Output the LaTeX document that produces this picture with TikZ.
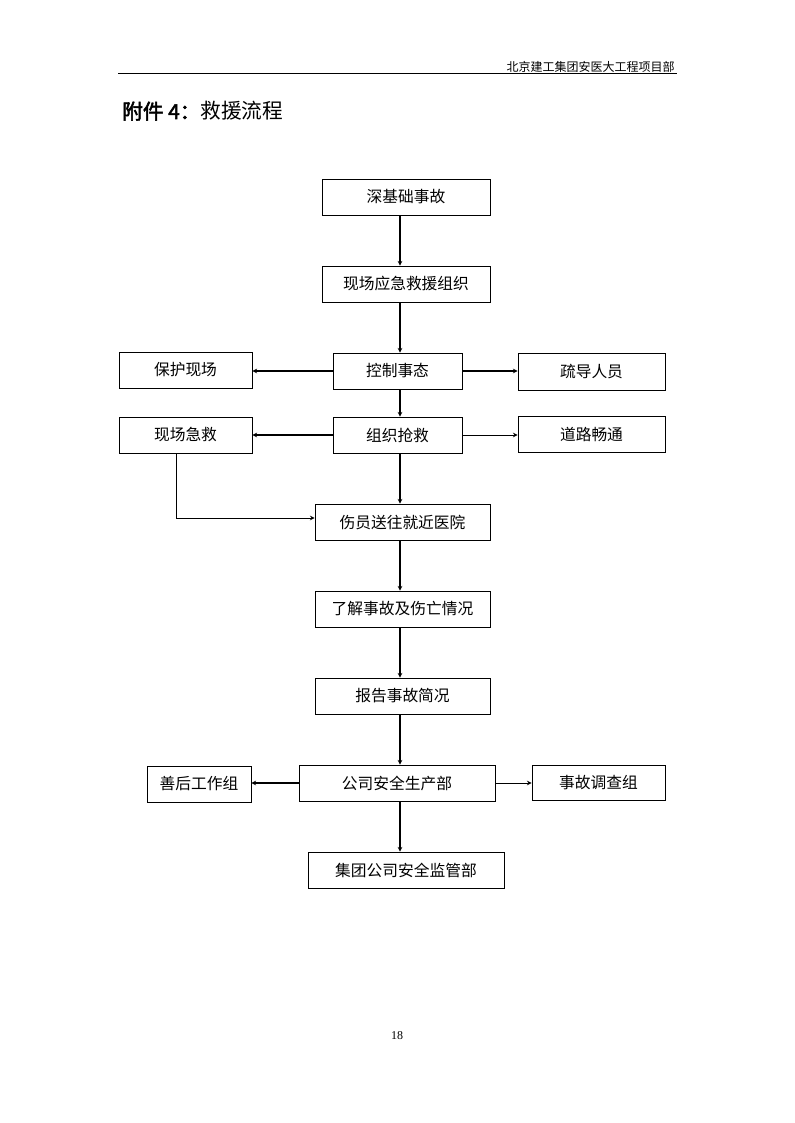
\documentclass[tikz,border=0pt]{standalone}
\usepackage{fontspec}
\setmainfont{Liberation Serif}
\newfontfamily\cjk[AutoFakeBold=2.5]{Noto Sans CJK SC}
\usetikzlibrary{arrows.meta}
\begin{document}
\begin{tikzpicture}[x=0.75pt,y=-0.75pt,
  box/.style={draw,line width=0.65pt,rectangle,inner sep=0pt,font=\cjk\fontsize{11.8}{13}\selectfont},
  thickarr/.style={line width=1.5pt,-{Stealth[length=3.5pt,width=3.5pt]}},
  thinarr/.style={line width=0.7pt,-{Stealth[length=3.5pt,width=3.5pt]}}]
\useasboundingbox (0,0) rectangle (794,1123);
% header
\node[anchor=base east,font=\cjk\fontsize{9}{10}\selectfont,inner sep=0pt] (hdr) at (675,72) {北京建工集团安医大工程项目部};
\draw[line width=0.75pt] (118,74) -- (677,74);
\node[anchor=base west,inner sep=0pt,font=\cjk\fontsize{15.5}{17}\selectfont] (title) at (122,119) {\textbf{附件 4：}救援流程};
% boxes
\node[box,minimum width=168*0.75pt,minimum height=36*0.75pt] (n1) at (406,197) {深基础事故};
\node[box,minimum width=168*0.75pt,minimum height=36*0.75pt] (n2) at (406,284) {现场应急救援组织};
\node[box,minimum width=133*0.75pt,minimum height=36*0.75pt] (bh) at (185.5,370) {保护现场};
\node[box,minimum width=129*0.75pt,minimum height=36*0.75pt] (kz) at (397.5,371) {控制事态};
\node[box,minimum width=147*0.75pt,minimum height=37*0.75pt] (sd) at (591.5,371.5) {疏导人员};
\node[box,minimum width=133*0.75pt,minimum height=36*0.75pt] (jj) at (185.5,435) {现场急救};
\node[box,minimum width=129*0.75pt,minimum height=36*0.75pt] (zz) at (397.5,435) {组织抢救};
\node[box,minimum width=147*0.75pt,minimum height=36*0.75pt] (dl) at (591.5,434) {道路畅通};
\node[box,minimum width=175*0.75pt,minimum height=36*0.75pt] (sy) at (402.5,522) {伤员送往就近医院};
\node[box,minimum width=175*0.75pt,minimum height=36*0.75pt] (lj) at (402.5,609) {了解事故及伤亡情况};
\node[box,minimum width=175*0.75pt,minimum height=36*0.75pt] (bg) at (402.5,696) {报告事故简况};
\node[box,minimum width=104*0.75pt,minimum height=36*0.75pt] (sh) at (199,784) {善后工作组};
\node[box,minimum width=196*0.75pt,minimum height=36*0.75pt] (gs) at (397,783) {公司安全生产部};
\node[box,minimum width=133*0.75pt,minimum height=35*0.75pt] (dc) at (598.5,782.5) {事故调查组};
\node[box,minimum width=196*0.75pt,minimum height=36*0.75pt] (jt) at (406,870) {集团公司安全监管部};
% page number
\node[font=\fontsize{9}{10}\selectfont,inner sep=0pt] (pg) at (397,1036) {18};
% connectors
\draw[thickarr] (n1.south -| 400,0) -- (n2.north -| 400,0);
\draw[thickarr] (n2.south -| 400,0) -- (kz.north -| 400,0);
\draw[thickarr] (kz.south -| 400,0) -- (zz.north -| 400,0);
\draw[thickarr] (zz.south -| 400,0) -- (sy.north -| 400,0);
\draw[thickarr] (sy.south -| 400,0) -- (lj.north -| 400,0);
\draw[thickarr] (lj.south -| 400,0) -- (bg.north -| 400,0);
\draw[thickarr] (bg.south -| 400,0) -- (gs.north -| 400,0);
\draw[thickarr] (gs.south -| 400,0) -- (jt.north -| 400,0);
\draw[thickarr] (kz.west) -- (bh.east |- kz.west);
\draw[thickarr] (kz.east) -- (sd.west |- kz.east);
\draw[thickarr] (zz.west) -- (jj.east |- zz.west);
\draw[thinarr] (zz.east) -- (dl.west |- zz.east);
\draw[thinarr] (jj.south -| 176,0) |- (sy.west |- 0,518);
\draw[thickarr] (gs.west) -- (sh.east |- gs.west);
\draw[thinarr] (gs.east) -- (dc.west |- gs.east);
\end{tikzpicture}
\end{document}
